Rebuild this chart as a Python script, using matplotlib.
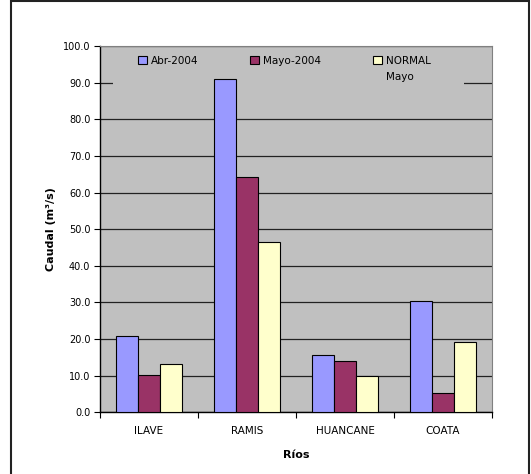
import numpy as np
import matplotlib
matplotlib.use("Agg")
import matplotlib.pyplot as plt
from matplotlib.patches import Rectangle

plt.rcParams['font.family'] = ['DejaVu Sans']

rios = ["ILAVE", "RAMIS", "HUANCANE", "COATA"]
abr_2004 = [20.8, 91.1, 15.7, 30.5]
mayo_2004 = [10.1, 64.3, 13.9, 5.4]
normal_mayo = [13.1, 46.6, 10.0, 19.1]

series = [("Abr-2004", abr_2004, "#9999FF"),
          ("Mayo-2004", mayo_2004, "#993366"),
          ("NORMAL", normal_mayo, "#FFFFCC")]

fig = plt.figure(figsize=(5.31, 4.74), dpi=100)
ax = fig.add_axes([100 / 531, (474 - 412.3) / 474, 392 / 531, (412.3 - 46) / 474])

# outer frame
fig.patches.append(Rectangle((11 / 531, -0.05), 518 / 531, 1.05 - 1 / 474,
                             transform=fig.transFigure, fill=False,
                             edgecolor="#222222", linewidth=1.5))

x = np.arange(len(rios))
w = 1 / 4.5
for i, (lab, vals, col) in enumerate(series):
    ax.bar(x + (i - 1) * w, vals, width=w, color=col, edgecolor="black",
           linewidth=0.8, label=lab, zorder=3)

ax.set_facecolor("#C0C0C0")
ax.set_xlim(-0.5, 3.5)
ax.set_ylim(0, 100)
ax.set_yticks(np.arange(0, 101, 10))
ax.set_yticklabels([f"{v:.1f}" for v in range(0, 101, 10)], fontsize=7)
ax.yaxis.grid(True, color="#222222", linewidth=0.9, zorder=1)
ax.set_axisbelow(True)

ax.set_xticks(np.arange(-0.5, 4, 1))
ax.set_xticklabels([])
ax.set_xticks(x, minor=True)
ax.set_xticklabels(rios, minor=True, fontsize=7.5)
ax.tick_params(axis="x", which="minor", length=0, pad=10)
ax.tick_params(axis="x", which="major", length=4, direction="out")
ax.tick_params(axis="y", length=4, direction="out", pad=3)

for s in ["top", "right"]:
    ax.spines[s].set_color("#808080")
    ax.spines[s].set_linewidth(0.8)
for s in ["left", "bottom"]:
    ax.spines[s].set_color("black")
    ax.spines[s].set_linewidth(1.0)

ax.set_ylabel("Caudal (m³/s)", fontsize=8, fontweight="bold", labelpad=5)
ax.set_xlabel("Ríos", fontsize=8, fontweight="bold", labelpad=10)

# legend area hides the gridline behind it
ax.add_patch(Rectangle((13 / 392, 1 - 42 / 366.3), 351 / 392, 40 / 366.3,
                       transform=ax.transAxes, facecolor="#C0C0C0",
                       edgecolor="none", zorder=1.5))
leg = ax.legend(ncol=3, loc="upper left", bbox_to_anchor=(38 / 392, 1 - 9.5 / 366.3),
                fontsize=7.5, frameon=False, handlelength=0.85, handleheight=0.85,
                handletextpad=0.4, columnspacing=4.95, borderpad=0, borderaxespad=0)
for h in leg.legend_handles:
    h.set_linewidth(0.8)
ax.text(286 / 392, 1 - 30.5 / 366.3, "Mayo", transform=ax.transAxes,
        fontsize=7.5, va="center", ha="left")

fig.savefig("out.png", dpi=100)
